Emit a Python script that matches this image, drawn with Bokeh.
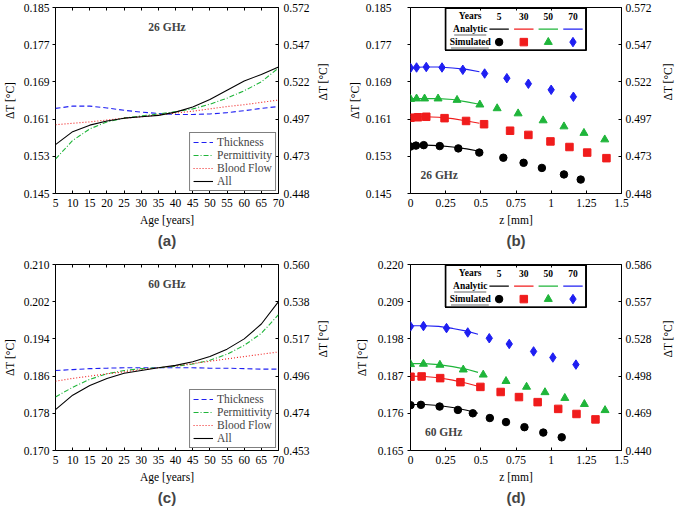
import math
from bokeh.plotting import figure
from bokeh.layouts import gridplot
from bokeh.models import LinearAxis, FixedTicker, Range1d, Legend, LegendItem, Label, Title
from bokeh.embed import file_html
from bokeh.resources import INLINE
from bokeh.core.properties import value

SERIF = "Liberation Serif"
SANS = "Liberation Sans"
FS = "11.5px"
TFS = "9.5px"

C_BLACK = "#000000"
C_RED = "#f01c1c"
C_GREEN = "#1fb53a"
C_BLUE = "#1f1ff2"

# ---------------- data: panel (a) 26 GHz vs age ----------------
age = [5, 10, 15, 20, 25, 30, 35, 40, 45, 50, 55, 60, 65, 70]
a_thickness = [0.1633, 0.1638, 0.1638, 0.1634, 0.1629, 0.1625, 0.1622, 0.1620, 0.1620, 0.1621, 0.1624, 0.1628, 0.1633, 0.1637]
a_permittivity = [0.1524, 0.1564, 0.1589, 0.1604, 0.1612, 0.1617, 0.1621, 0.1626, 0.1632, 0.1642, 0.1655, 0.1671, 0.1690, 0.1720]
a_bloodflow = [0.1598, 0.1601, 0.1604, 0.1608, 0.1612, 0.1615, 0.1619, 0.1623, 0.1627, 0.1632, 0.1637, 0.1641, 0.1646, 0.1651]
a_all = [0.1555, 0.1583, 0.1597, 0.1606, 0.1612, 0.1615, 0.1618, 0.1625, 0.1636, 0.1652, 0.1672, 0.1692, 0.1706, 0.1722]

# ---------------- data: panel (c) 60 GHz vs age ----------------
c_thickness = [0.1872, 0.1874, 0.1876, 0.1877, 0.1878, 0.1878, 0.1878, 0.1878, 0.1878, 0.1877, 0.1877, 0.1876, 0.1875, 0.1875]
c_permittivity = [0.1815, 0.1836, 0.1853, 0.1865, 0.1872, 0.1876, 0.1878, 0.1881, 0.1886, 0.1894, 0.1907, 0.1926, 0.1952, 0.1992]
c_bloodflow = [0.1849, 0.1855, 0.1860, 0.1865, 0.1869, 0.1874, 0.1878, 0.1882, 0.1887, 0.1892, 0.1897, 0.1902, 0.1907, 0.1912]
c_all = [0.1788, 0.1819, 0.1840, 0.1855, 0.1866, 0.1872, 0.1878, 0.1883, 0.1891, 0.1902, 0.1918, 0.1940, 0.1972, 0.2020]

# ---------------- data: panel (b) 26 GHz vs depth ----------------
b_an_z = [0, 0.1, 0.2, 0.3, 0.4, 0.49]
b_an_5 = [0.1554, 0.1554, 0.1553, 0.1550, 0.1546, 0.1541]
b_an_30 = [0.1615, 0.1615, 0.1614, 0.1611, 0.1606, 0.1601]
b_an_50 = [0.1654, 0.1654, 0.1654, 0.1652, 0.1647, 0.1642]
b_an_70 = [0.1721, 0.1722, 0.1722, 0.1720, 0.1717, 0.1712]
b5_z = [0, 0.039, 0.094, 0.208, 0.340, 0.489, 0.660, 0.804, 0.934, 1.091, 1.210]
b5_t = [0.1551, 0.1553, 0.1554, 0.1552, 0.1547, 0.1538, 0.1527, 0.1516, 0.1505, 0.1491, 0.1480]
b30_z = [0, 0.053, 0.112, 0.242, 0.395, 0.523, 0.708, 0.838, 0.995, 1.130, 1.256, 1.393]
b30_t = [0.1613, 0.1614, 0.1615, 0.1612, 0.1606, 0.1599, 0.1585, 0.1576, 0.1562, 0.1550, 0.1538, 0.1526]
b50_z = [0, 0.043, 0.100, 0.196, 0.331, 0.493, 0.616, 0.765, 0.943, 1.091, 1.233, 1.381]
b50_t = [0.1653, 0.1654, 0.1654, 0.1654, 0.1651, 0.1641, 0.1633, 0.1622, 0.1607, 0.1594, 0.1580, 0.1566]
b70_z = [0, 0.043, 0.112, 0.224, 0.372, 0.527, 0.685, 0.838, 1.000, 1.158]
b70_t = [0.1720, 0.1721, 0.1722, 0.1721, 0.1716, 0.1708, 0.1698, 0.1686, 0.1673, 0.1658]

# ---------------- data: panel (d) 60 GHz vs depth ----------------
d_an_z = [0, 0.1, 0.2, 0.3, 0.4, 0.48]
d_an_5 = [0.1786, 0.1786, 0.1783, 0.1777, 0.1769, 0.1760]
d_an_30 = [0.1870, 0.1869, 0.1865, 0.1858, 0.1849, 0.1840]
d_an_50 = [0.1907, 0.1907, 0.1904, 0.1898, 0.1890, 0.1881]
d_an_70 = [0.2019, 0.2019, 0.2017, 0.2011, 0.2003, 0.1994]
d5_z = [0, 0.074, 0.207, 0.337, 0.443, 0.564, 0.679, 0.810, 0.944, 1.075]
d5_t = [0.1784, 0.1785, 0.1780, 0.1770, 0.1760, 0.1746, 0.1734, 0.1719, 0.1703, 0.1689]
d30_z = [0, 0.079, 0.211, 0.355, 0.497, 0.641, 0.771, 0.904, 1.050, 1.180, 1.315]
d30_t = [0.1868, 0.1869, 0.1864, 0.1852, 0.1838, 0.1823, 0.1808, 0.1793, 0.1773, 0.1758, 0.1742]
d50_z = [0, 0.092, 0.209, 0.375, 0.517, 0.679, 0.825, 0.956, 1.097, 1.236, 1.383]
d50_t = [0.1905, 0.1906, 0.1903, 0.1889, 0.1874, 0.1855, 0.1838, 0.1822, 0.1805, 0.1787, 0.1769]
d70_z = [0, 0.092, 0.256, 0.407, 0.560, 0.702, 0.875, 1.012, 1.176]
d70_t = [0.2017, 0.2018, 0.2012, 0.1999, 0.1982, 0.1965, 0.1943, 0.1925, 0.1904]

# ---------------- ticks / labels ----------------
age_ticks = [5, 10, 15, 20, 25, 30, 35, 40, 45, 50, 55, 60, 65, 70]
age_labels = ["5", "10", "15", "20", "25", "30", "35", "40", "45", "50", "55", "60", "65", "70"]
z_ticks = [0, 0.25, 0.5, 0.75, 1.0, 1.25, 1.5]
z_labels = ["0", "0.25", "0.5", "0.75", "1", "1.25", "1.5"]
ab_left_ticks = [0.145, 0.153, 0.161, 0.169, 0.177, 0.185]
ab_left_labels = ["0.145", "0.153", "0.161", "0.169", "0.177", "0.185"]
ab_right_labels = ["0.448", "0.473", "0.497", "0.522", "0.547", "0.572"]
c_left_ticks = [0.170, 0.178, 0.186, 0.194, 0.202, 0.210]
c_left_labels = ["0.170", "0.178", "0.186", "0.194", "0.202", "0.210"]
c_right_labels = ["0.453", "0.474", "0.496", "0.517", "0.538", "0.560"]
d_left_ticks = [0.165, 0.176, 0.187, 0.198, 0.209, 0.220]
d_left_labels = ["0.165", "0.176", "0.187", "0.198", "0.209", "0.220"]
d_right_labels = ["0.440", "0.469", "0.498", "0.528", "0.557", "0.586"]

years = ["5", "30", "50", "70"]
year_colors = [C_BLACK, C_RED, C_GREEN, C_BLUE]
year_markers = ["circle", "square", "triangle", "diamond"]
year_sizes = [7.5, 7.5, 8, 9.5]

YLABEL = "ΔT [°C]"


def base_fig(width, height, xr, yr, left, right, top, bottom):
    p = figure(width=width, height=height, x_range=Range1d(*xr), y_range=Range1d(*yr),
               output_backend="svg", toolbar_location=None, tools="",
               min_border_left=left, min_border_right=right,
               min_border_top=top, min_border_bottom=bottom,
               x_axis_type=None, y_axis_type=None)
    p.outline_line_color = C_BLACK
    p.outline_line_width = 1
    p.outline_line_alpha = 1
    p.background_fill_color = "white"
    p.border_fill_color = "white"
    return p


def add_axis(p, side, ticks, labels, axis_label=None, tick_in=0, tick_out=3, show_labels=True,
             label_standoff=3, title_standoff=4):
    ax = LinearAxis(ticker=FixedTicker(ticks=ticks, minor_ticks=[]))
    ax.major_label_overrides = {t: (l if show_labels else "") for t, l in zip(ticks, labels)}
    ax.axis_line_color = None
    ax.major_tick_line_color = C_BLACK
    ax.major_tick_in = tick_in
    ax.major_tick_out = tick_out
    ax.minor_tick_line_color = None
    ax.major_label_text_font = SERIF
    ax.major_label_text_font_size = FS if show_labels else "0px"
    ax.major_label_text_color = C_BLACK
    ax.major_label_standoff = label_standoff if show_labels else 0
    if axis_label:
        ax.axis_label = axis_label
        ax.axis_label_text_font = SERIF
        ax.axis_label_text_font_style = "normal"
        ax.axis_label_text_font_size = FS
        ax.axis_label_text_color = C_BLACK
        ax.axis_label_standoff = title_standoff
        if side == "right":
            ax.axis_label_orientation = math.pi / 2
    p.add_layout(ax, side)
    return ax


def frac(rng, f):
    return rng[0] + f * (rng[1] - rng[0])


def age_panel(width, height, yr, left_ticks, left_labels, right_labels, series, freq, tag,
              top, bottom):
    xr = (5, 70)
    p = base_fig(width, height, xr, yr, 54, 67, top, bottom)
    th, pe, bf, al = series
    r1 = p.line(age, th, line_color=C_BLUE, line_width=1.1, line_dash="5 3")
    r2 = p.line(age, pe, line_color=C_GREEN, line_width=1.1, line_dash="5 2 1 2")
    r3 = p.line(age, bf, line_color=C_RED, line_width=1.1, line_dash="1 2")
    r4 = p.line(age, al, line_color=C_BLACK, line_width=1.1)
    leg = Legend(items=[LegendItem(label="Thickness", renderers=[r1]),
                        LegendItem(label="Permittivity", renderers=[r2]),
                        LegendItem(label="Blood Flow", renderers=[r3]),
                        LegendItem(label="All", renderers=[r4])],
                 location="bottom_right", border_line_color=C_BLACK, border_line_width=1,
                 label_text_font=SERIF, label_text_font_size=FS,
                 glyph_width=20, glyph_height=12, label_height=12,
                 spacing=1, padding=3, margin=2, label_standoff=4,
                 background_fill_color="white", background_fill_alpha=1)
    p.add_layout(leg)
    p.add_layout(Label(x=frac(xr, 0.50), y=frac(yr, 0.894), text=freq, text_font=SERIF,
                       text_font_style="bold", text_font_size=FS, text_align="center",
                       text_baseline="middle"))
    add_axis(p, "left", left_ticks, left_labels, YLABEL, tick_in=0, tick_out=3,
             label_standoff=3, title_standoff=5)
    add_axis(p, "right", left_ticks, right_labels, YLABEL, tick_in=3, tick_out=0,
             label_standoff=5, title_standoff=11)
    add_axis(p, "below", age_ticks, age_labels, "Age [years]", tick_in=3, tick_out=0,
             label_standoff=5, title_standoff=4)
    add_axis(p, "above", age_ticks, age_labels, None, tick_in=3, tick_out=0, show_labels=False)
    p.add_layout(Title(text=tag, align="center", text_font=SANS, text_font_style="bold",
                       text_font_size="15px", standoff=2), "below")
    return p


def table_frame(p, xr, yr):
    bx0, bx1 = frac(xr, 0.166), frac(xr, 0.832)
    by0, by1 = frac(yr, 0.770), frac(yr, 0.997)
    p.line([bx0, bx1, bx1, bx0, bx0], [by1, by1, by0, by0, by1], line_color=C_BLACK,
           line_width=1.2)
    p.segment(x0=[bx0, bx1, bx0, bx0], x1=[bx1, bx1, bx1, bx0],
              y0=[by1, by1, by0, by0], y1=[by1, by0, by0, by1],
              line_color=C_BLACK, line_width=1.2)


def depth_panel(width, height, left, yr, left_ticks, left_labels, right_labels,
                an_z, an_series, sim_z, sim_t, freq, gx, gy, tag, top, bottom,
                lstand, ltitle):
    xr = (0, 1.5)
    p = base_fig(width, height, xr, yr, left, 56, top, bottom)
    table_frame(p, xr, yr)
    for ys, col in zip(an_series, year_colors):
        p.line(an_z, ys, line_color=col, line_width=1.1)
    for zs, ts, col, mk, sz in zip(sim_z, sim_t, year_colors, year_markers, year_sizes):
        p.scatter(zs, ts, marker=mk, size=sz, fill_color=col, line_color=col)

    # legend table (Years / Analytic / Simulated)
    col_f = [0.283, 0.420, 0.537, 0.653, 0.770]
    row_f = [0.952, 0.884, 0.814]
    p.text(x=[frac(xr, f) for f in col_f], y=[frac(yr, row_f[0])] * 5, text=["Years"] + years,
           text_font=value(SERIF), text_font_style="bold", text_font_size=value(TFS),
           text_align="center", text_baseline="middle", text_color=C_BLACK)
    p.text(x=[frac(xr, col_f[0])] * 2, y=[frac(yr, row_f[1]), frac(yr, row_f[2])],
           text=["Analytic", "Simulated"],
           text_font=value(SERIF), text_font_style="bold", text_font_size=value(TFS),
           text_align="center", text_baseline="middle", text_color=C_BLACK)
    p.segment(x0=[frac(xr, 0.207), frac(xr, 0.192)], x1=[frac(xr, 0.359), frac(xr, 0.371)],
              y0=[frac(yr, 0.852), frac(yr, 0.782)], y1=[frac(yr, 0.852), frac(yr, 0.782)],
              line_color="#9a9a9a", line_width=1.5)
    hw = 0.046
    for f, col, mk, sz in zip(col_f[1:], year_colors, year_markers, year_sizes):
        p.segment(x0=[frac(xr, f - hw)], x1=[frac(xr, f + hw)], y0=[frac(yr, row_f[1])],
                  y1=[frac(yr, row_f[1])], line_color=col, line_width=1.1)
        p.scatter([frac(xr, f)], [frac(yr, row_f[2])], marker=mk, size=sz,
                  fill_color=col, line_color=col)
    table_frame(p, xr, yr)

    p.add_layout(Label(x=frac(xr, gx), y=frac(yr, gy), text=freq, text_font=SERIF,
                       text_font_style="bold", text_font_size=FS, text_align="center",
                       text_baseline="middle"))
    add_axis(p, "left", left_ticks, left_labels, YLABEL, tick_in=0, tick_out=3,
             label_standoff=lstand, title_standoff=ltitle)
    add_axis(p, "right", left_ticks, right_labels, YLABEL, tick_in=3, tick_out=0,
             label_standoff=4, title_standoff=14)
    add_axis(p, "below", z_ticks, z_labels, "z [mm]", tick_in=3, tick_out=0,
             label_standoff=5, title_standoff=4)
    add_axis(p, "above", z_ticks, z_labels, None, tick_in=3, tick_out=0, show_labels=False)
    p.add_layout(Title(text=tag, align="center", text_font=SANS, text_font_style="bold",
                       text_font_size="15px", standoff=2), "below")
    return p


pa = age_panel(345, 257, (0.145, 0.185), ab_left_ticks, ab_left_labels, ab_right_labels,
               (a_thickness, a_permittivity, a_bloodflow, a_all), "26 GHz", "(a)", 7, 64)
pb = depth_panel(338, 257, 63, (0.145, 0.185), ab_left_ticks, ab_left_labels, ab_right_labels,
                 b_an_z, (b_an_5, b_an_30, b_an_50, b_an_70),
                 (b5_z, b30_z, b50_z, b70_z), (b5_t, b30_t, b50_t, b70_t),
                 "26 GHz", 0.136, 0.102, "(b)", 7, 64, 16, 2)
pc = age_panel(345, 251, (0.170, 0.210), c_left_ticks, c_left_labels, c_right_labels,
               (c_thickness, c_permittivity, c_bloodflow, c_all), "60 GHz", "(c)", 7, 58)
pd = depth_panel(338, 251, 59, (0.165, 0.220), d_left_ticks, d_left_labels, d_right_labels,
                 d_an_z, (d_an_5, d_an_30, d_an_50, d_an_70),
                 (d5_z, d30_z, d50_z, d70_z), (d5_t, d30_t, d50_t, d70_t),
                 "60 GHz", 0.157, 0.098, "(d)", 7, 58, 4, 7)

grid = gridplot([[pa, pb], [pc, pd]], toolbar_location=None)

with open("out.html", "w") as f:
    f.write(file_html(grid, INLINE))
